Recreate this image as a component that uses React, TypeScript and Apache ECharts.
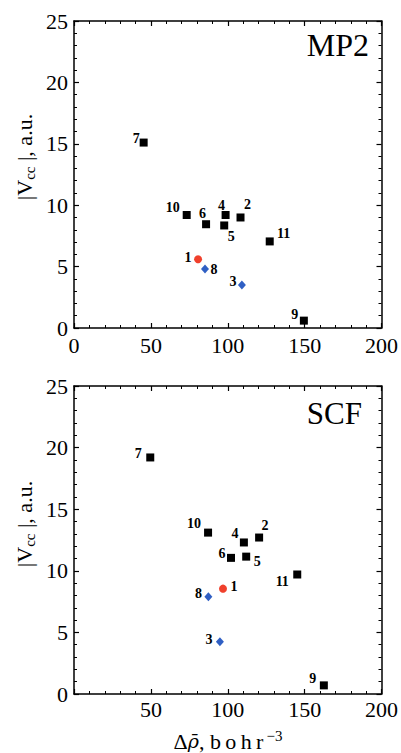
import React, { useEffect, useRef } from 'react';
import * as echarts from 'echarts';

// Data
const pointIds = ['1', '2', '3', '4', '5', '6', '7', '8', '9', '10', '11'];
const pointKinds = ['circle', 'square', 'diamond', 'square', 'square', 'square', 'square', 'diamond', 'square', 'square', 'square'];
const mp2X = [80.7, 108.3, 109.2, 98.6, 97.7, 85.9, 45.3, 85.2, 149.5, 73.3, 127.3];
const mp2Y = [5.6, 9.0, 3.5, 9.2, 8.35, 8.45, 15.1, 4.8, 0.6, 9.2, 7.05];
const scfX = [96.9, 120.4, 94.9, 110.5, 112, 102.1, 49.6, 87.4, 162.5, 87.2, 145.2];
const scfY = [8.55, 12.7, 4.25, 12.3, 11.15, 11.05, 19.2, 7.9, 0.7, 13.1, 9.7];
const panelTitles = ['MP2', 'SCF'];
const xRange = [0, 200];
const yRange = [0, 25];

// Label placement (pixels, relative to the marker)
const mp2LabelOffsets = [[-10, -2], [7, -13], [-9, -4], [-4, -10], [7, 11], [-3.5, -11], [-7.5, -4.5], [9, 0], [-9, -6], [-14, -8], [14, -8]];
const scfLabelOffsets = [[11, -2], [6, -12], [-11, -2], [-9, -9], [11, 5], [-9, -4], [-12, -4], [-10, -3], [-11, -7], [-14, -9], [-15, 7]];

const SERIF = 'Liberation Serif';

const markerStyle: Record<string, any> = {
  square: { symbol: 'rect', symbolSize: 8, color: '#000000' },
  circle: { symbol: 'circle', symbolSize: 8, color: '#f0402c' },
  diamond: { symbol: 'diamond', symbolSize: [8, 9], color: '#2f5fc4' },
};

export default function App() {
  const ref = useRef<HTMLDivElement>(null);

  useEffect(() => {
    if (!ref.current) return;
    const chart = echarts.init(ref.current, undefined, { renderer: 'svg' });

    const grids = [
      { left: 74, top: 21, width: 309, height: 307 },
      { left: 74, top: 386, width: 309, height: 308 },
    ];

    const axisCommon = {
      type: 'value',
      axisLine: { show: true, onZero: false, lineStyle: { color: '#000', width: 1.5 } },
      axisTick: { show: true, inside: true, length: 5, lineStyle: { color: '#000', width: 1.2 } },
      minorTick: { show: true, splitNumber: 5, length: 3, lineStyle: { color: '#000', width: 1 } },
      splitLine: { show: false },
    };

    const labelFont = { color: '#000', fontFamily: SERIF, fontSize: 22, fontWeight: 'normal' };

    const xAxes: any[] = [];
    const yAxes: any[] = [];
    [0, 1].forEach((g) => {
      xAxes.push({
        ...axisCommon,
        gridIndex: g,
        position: 'bottom',
        min: xRange[0],
        max: xRange[1],
        interval: 50,
        axisLabel: {
          show: true,
          margin: g === 0 ? 6 : 4,
          ...labelFont,
          formatter: (v: number) => (g === 1 && v === 0 ? '' : String(v)),
        },
      });
      xAxes.push({
        ...axisCommon,
        gridIndex: g,
        position: 'top',
        min: xRange[0],
        max: xRange[1],
        interval: 50,
        axisLabel: { show: false },
      });
      yAxes.push({
        ...axisCommon,
        gridIndex: g,
        position: 'left',
        min: yRange[0],
        max: yRange[1],
        interval: 5,
        axisLabel: { show: true, margin: 6, ...labelFont },
      });
      yAxes.push({
        ...axisCommon,
        gridIndex: g,
        position: 'right',
        min: yRange[0],
        max: yRange[1],
        interval: 5,
        axisLabel: { show: false },
      });
    });

    const panels = [
      { xs: mp2X, ys: mp2Y, offs: mp2LabelOffsets },
      { xs: scfX, ys: scfY, offs: scfLabelOffsets },
    ];

    const series: any[] = [];
    panels.forEach((p, g) => {
      ['square', 'circle', 'diamond'].forEach((kind) => {
        const st = markerStyle[kind];
        const data = pointIds
          .map((id, i) => ({ id, i }))
          .filter(({ i }) => pointKinds[i] === kind)
          .map(({ id, i }) => ({
            name: id,
            value: [p.xs[i], p.ys[i]],
            label: { offset: p.offs[i] },
          }));
        series.push({
          type: 'scatter',
          xAxisIndex: g * 2,
          yAxisIndex: g * 2,
          symbol: st.symbol,
          symbolSize: st.symbolSize,
          itemStyle: { color: st.color, opacity: 1 },
          label: {
            show: true,
            position: 'inside',
            formatter: '{b}',
            color: '#000',
            fontFamily: SERIF,
            fontWeight: 'bold',
            fontSize: 14,
            align: 'center',
            verticalAlign: 'middle',
          },
          emphasis: { disabled: true },
          data,
        });
      });
    });

    const yNameRich = {
      m: { fontFamily: SERIF, fontSize: 22, fill: '#000', lineHeight: 26 },
      s: { fontFamily: SERIF, fontSize: 15, fill: '#000', lineHeight: 15, verticalAlign: 'bottom' },
    };

    const graphic: any[] = [
      {
        type: 'text',
        x: 369,
        y: 45,
        style: { text: panelTitles[0], fill: '#000', fontFamily: SERIF, fontSize: 32, align: 'right', verticalAlign: 'middle' },
      },
      {
        type: 'text',
        x: 362,
        y: 413,
        style: { text: panelTitles[1], fill: '#000', fontFamily: SERIF, fontSize: 31, align: 'right', verticalAlign: 'middle' },
      },
      {
        type: 'text',
        x: 24,
        y: 157,
        rotation: Math.PI / 2,
        style: { text: '{m||V}{s|cc}{m| |, a.u.}', fontFamily: SERIF, fontSize: 22, rich: yNameRich, align: 'center', verticalAlign: 'middle' },
      },
      {
        type: 'text',
        x: 24,
        y: 524,
        rotation: Math.PI / 2,
        style: { text: '{m||V}{s|cc}{m| |, a.u.}', fontFamily: SERIF, fontSize: 22, rich: yNameRich, align: 'center', verticalAlign: 'middle' },
      },
      {
        type: 'text',
        x: 228,
        y: 741,
        style: {
          text: '{m|Δ}{i|ρ\u0304}{m|, b\u2009o\u2009h\u2009r}{s|\u2009−3}',
          fontFamily: SERIF,
          fontSize: 22,
          rich: {
            m: { fontFamily: SERIF, fontSize: 22, fill: '#000', lineHeight: 26 },
            i: { fontFamily: 'DejaVu Serif', fontSize: 19, fontStyle: 'italic', fill: '#000', lineHeight: 26 },
            s: { fontFamily: SERIF, fontSize: 15, fill: '#000', lineHeight: 15, verticalAlign: 'top' },
          },
          align: 'center',
          verticalAlign: 'middle',
        },
      },
    ];

    chart.setOption({
      animation: false,
      backgroundColor: '#ffffff',
      textStyle: { fontFamily: SERIF },
      grid: grids,
      xAxis: xAxes,
      yAxis: yAxes,
      series,
      graphic,
    });

    return () => chart.dispose();
  }, []);

  return (
    <div
      ref={ref}
      style={{ position: 'fixed', left: 0, top: 0, width: 401, height: 753, background: '#fff' }}
    />
  );
}
